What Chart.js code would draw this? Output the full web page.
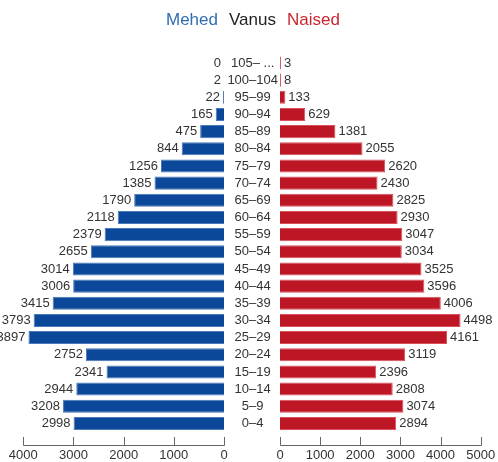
<!DOCTYPE html>
<html><head><meta charset="utf-8">
<script src="https://cdn.jsdelivr.net/npm/chart.js@4"></script>
<style>
html,body{margin:0;padding:0;background:#fff;}
#wrap{position:relative;width:498px;height:462px;overflow:hidden;background:#fff;}
.layer{position:absolute;left:0;top:0;width:498px;height:462px;}
.title{position:absolute;top:10px;left:166px;font:17px/19px "Liberation Sans",Arial,sans-serif;white-space:nowrap;}
.title span{margin-right:11px;}
</style></head><body>
<div id="wrap">
  <div class="layer"><canvas id="cLeft" width="498" height="462"></canvas></div>
  <div class="layer"><canvas id="cRight" width="498" height="462"></canvas></div>
  <div class="title"><span style="color:#2f6db5">Mehed</span><span style="color:#222">Vanus</span><span style="color:#c9262f">Naised</span></div>
</div>
<script>
const ageGroups = ["105– ...","100–104","95–99","90–94","85–89","80–84","75–79","70–74","65–69","60–64","55–59","50–54","45–49","40–44","35–39","30–34","25–29","20–24","15–19","10–14","5–9","0–4"];
const men   = [0,2,22,165,475,844,1256,1385,1790,2118,2379,2655,3014,3006,3415,3793,3897,2752,2341,2944,3208,2998];
const women = [3,8,133,629,1381,2055,2620,2430,2825,2930,3047,3034,3525,3596,4006,4498,4161,3119,2396,2808,3074,2894];
const menAxisMax = 4000;
const womenAxisMax = 5000;
const tickStep = 1000;

const FONT = '"Liberation Sans", Arial, sans-serif';
const TEXT = '#333333';

const axisPlugin = {
  id: 'axisLine',
  afterDraw(chart) {
    const s = chart.scales.x, ctx = chart.ctx;
    const b = chart.chartArea.bottom;
    const yLine = Math.round(b + 12.8) + 0.5;
    const yTop = Math.round(b + 4.8);
    ctx.save();
    ctx.strokeStyle = '#666';
    ctx.lineWidth = 1;
    ctx.beginPath();
    const x0 = Math.round(s.getPixelForValue(s.min)) + 0.5;
    const x1 = Math.round(s.getPixelForValue(s.max)) + 0.5;
    ctx.moveTo(Math.min(x0, x1), yLine);
    ctx.lineTo(Math.max(x0, x1), yLine);
    s.ticks.forEach(t => {
      const x = Math.round(s.getPixelForValue(t.value)) + 0.5;
      ctx.moveTo(x, yTop);
      ctx.lineTo(x, yLine);
    });
    ctx.stroke();
    ctx.restore();
  }
};

const valuePlugin = {
  id: 'values',
  afterDatasetsDraw(chart, args, opts) {
    const ctx = chart.ctx;
    const meta = chart.getDatasetMeta(0);
    const vals = chart.data.datasets[0].data;
    ctx.save();
    ctx.font = '13px ' + FONT;
    ctx.fillStyle = TEXT;
    ctx.textBaseline = 'middle';
    meta.data.forEach((bar, i) => {
      if (opts.side === 'left') {
        ctx.textAlign = 'right';
        ctx.fillText(String(vals[i]), bar.x - 3, bar.y);
      } else {
        ctx.textAlign = 'left';
        ctx.fillText(String(vals[i]), bar.x + 3, bar.y);
      }
    });
    ctx.restore();
  }
};

function xScale(max, reverse) {
  return {
    type: 'linear', min: 0, max: max, reverse: reverse,
    ticks: { stepSize: tickStep, color: TEXT, font: { family: FONT, size: 13 }, padding: 0, maxRotation: 0,
             callback: v => String(v) },
    grid: { display: false, drawTicks: true, tickLength: 16 },
    border: { display: false },
    afterFit(s) { s.height = 30; }
  };
}

new Chart(document.getElementById('cLeft'), {
  type: 'bar',
  data: { labels: ageGroups, datasets: [{
    data: men, backgroundColor: '#0c4899', borderColor: '#4a78b8', borderWidth: 1,
    categoryPercentage: 1, barPercentage: 0.76
  }]},
  options: {
    indexAxis: 'y', responsive: false, animation: false, devicePixelRatio: 1,
    layout: { padding: { left: 23.3, right: 274, top: 54.4, bottom: 0 } },
    plugins: { legend: { display: false }, tooltip: { enabled: false }, values: { side: 'left' } },
    scales: {
      x: xScale(menAxisMax, true),
      y: { display: false }
    }
  },
  plugins: [axisPlugin, valuePlugin]
});

new Chart(document.getElementById('cRight'), {
  type: 'bar',
  data: { labels: ageGroups, datasets: [{
    data: women, backgroundColor: '#bd1624', borderColor: '#d9505b', borderWidth: 1,
    categoryPercentage: 1, barPercentage: 0.76, minBarLength: 1
  }]},
  options: {
    indexAxis: 'y', responsive: false, animation: false, devicePixelRatio: 1,
    layout: { padding: { left: 220, right: 17.3, top: 54.4, bottom: 0 } },
    plugins: { legend: { display: false }, tooltip: { enabled: false }, values: { side: 'right' } },
    scales: {
      x: xScale(womenAxisMax, false),
      y: {
        position: 'left',
        ticks: { crossAlign: 'center', padding: 2, color: TEXT, font: { family: FONT, size: 13 }, autoSkip: false },
        grid: { display: false, drawTicks: false },
        border: { display: false },
        afterFit(s) { s.width = 60; }
      }
    }
  },
  plugins: [axisPlugin, valuePlugin]
});
</script>
</body></html>
